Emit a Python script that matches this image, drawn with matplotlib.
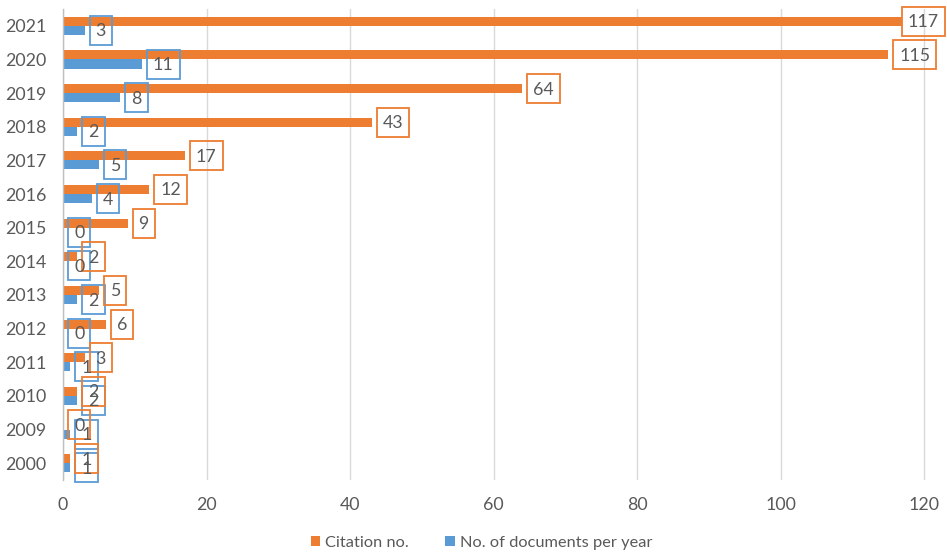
import matplotlib
matplotlib.use("Agg")
import matplotlib.pyplot as plt
from matplotlib.patches import Rectangle
from matplotlib.transforms import IdentityTransform
import numpy as np

years = ["2000", "2009", "2010", "2011", "2012", "2013", "2014", "2015",
         "2016", "2017", "2018", "2019", "2020", "2021"]
citations = [1, 0, 2, 3, 6, 5, 2, 9, 12, 17, 43, 64, 115, 117]
documents = [1, 1, 2, 1, 0, 2, 0, 0, 4, 5, 2, 8, 11, 3]
xticks = [0, 20, 40, 60, 80, 100, 120]

ORANGE = "#ED7D31"
BLUE = "#5B9BD5"
TEXT = "#595959"

plt.rcParams['font.family'] = ['Lato', 'DejaVu Sans']
plt.rcParams['font.size'] = 12

W, H = 947, 553
fig = plt.figure(figsize=(W / 100, H / 100), dpi=100)
ax = fig.add_axes([63 / W, 1 - 480 / H, 1 - 63 / W, (480 - 9) / H])

y = np.arange(len(years))
bh = 0.27
ax.barh(y + bh / 2, citations, height=bh, color=ORANGE, label="Citation no.")
ax.barh(y - bh / 2, documents, height=bh, color=BLUE, label="No. of documents per year")

ax.set_ylim(-0.5, len(years) - 0.5)
ax.set_xlim(0, (W - 63) / 7.175)
ax.set_xticks(xticks)
ax.set_yticks(y)
ax.set_yticklabels(years)
ax.tick_params(length=0, colors=TEXT, labelsize=12.8)
ax.tick_params(axis='y', pad=12)
ax.tick_params(axis='x', pad=12)
for s in ["top", "right", "bottom"]:
    ax.spines[s].set_visible(False)
ax.spines["left"].set_color("#BFBFBF")
ax.spines["left"].set_linewidth(1.0)
ax.xaxis.grid(True, color="#D9D9D9", linewidth=1.0)
ax.set_axisbelow(True)

leg = fig.legend(loc="center", bbox_to_anchor=(481.5 / W, 1 - 543 / H),
                 ncol=2, frameon=False, fontsize=11.8, handlelength=0.6,
                 handleheight=0.6, handletextpad=0.3, columnspacing=2.2,
                 labelcolor=TEXT)

fig.canvas.draw()
renderer = fig.canvas.get_renderer()
ident = IdentityTransform()

def add_labels(vals, off, color):
    for i, v in enumerate(vals):
        px, py = ax.transData.transform((v, i + off))
        t = fig.text(0, 0, str(v), transform=ident, ha="left", va="baseline",
                     color=TEXT, fontsize=12.8)
        tw = t.get_window_extent(renderer).width
        box_w = tw + 12
        box_left = px + 5
        if box_left + box_w > W - 2:
            box_left = W - 2 - box_w
        t.set_position((box_left + 6, py - 6))
        rect = Rectangle((box_left, py - 14.5), box_w, 29, transform=ident,
                         fill=False, edgecolor=color, linewidth=1.3)
        fig.add_artist(rect)

add_labels(documents, -bh / 2, BLUE)
add_labels(citations, bh / 2, ORANGE)

fig.savefig("out.png", dpi=100)
